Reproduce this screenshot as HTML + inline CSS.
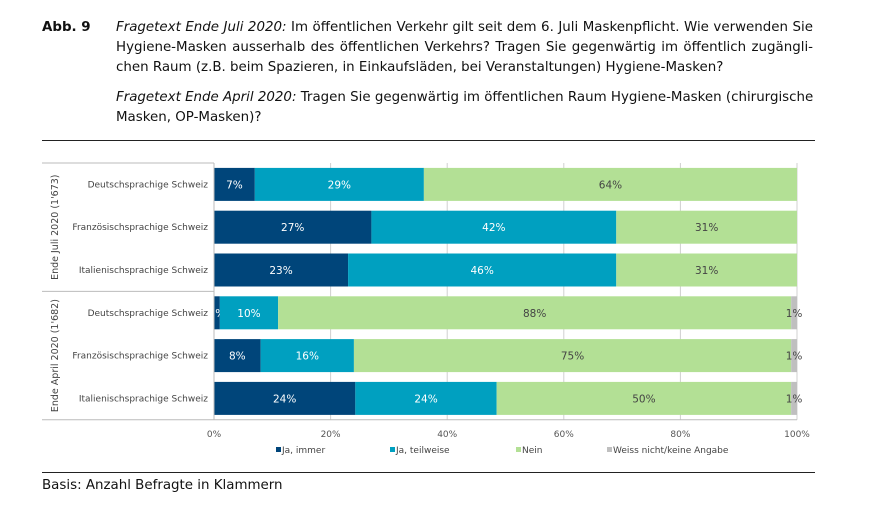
<!DOCTYPE html>
<html><head><meta charset="utf-8"><style>
body{margin:0;width:885px;height:506px;background:#fff;overflow:hidden;font-family:"DejaVu Sans","Liberation Sans",sans-serif;}
.hd{position:absolute;font-size:13.4px;color:#111;}
.ln{position:absolute;left:116px;width:697px;font-size:13.4px;text-align:justify;text-align-last:justify;white-space:nowrap;color:#111;}
.ln.l{text-align-last:left;}
</style></head><body>
<div class="hd" style="left:42px;top:20px;font-weight:bold;">Abb. 9</div>
<div class="ln" style="top:20px"><i>Fragetext Ende Juli 2020:</i> Im öffentlichen Verkehr gilt seit dem 6. Juli Maskenpflicht. Wie verwenden Sie</div>
<div class="ln" style="top:40px">Hygiene-Masken ausserhalb des öffentlichen Verkehrs? Tragen Sie gegenwärtig im öffentlich zugängli-</div>
<div class="ln l" style="top:60px">chen Raum (z.B. beim Spazieren, in Einkaufsläden, bei Veranstaltungen) Hygiene-Masken?</div>
<div class="ln" style="top:90px"><i>Fragetext Ende April 2020:</i> Tragen Sie gegenwärtig im öffentlichen Raum Hygiene-Masken (chirurgische</div>
<div class="ln l" style="top:110px">Masken, OP-Masken)?</div>
<div style="position:absolute;left:42px;top:140px;width:773px;height:1px;background:#222"></div>
<div style="position:absolute;left:42px;top:472px;width:773px;height:1px;background:#222"></div>
<div class="hd" style="left:42px;top:478px;">Basis: Anzahl Befragte in Klammern</div>
<svg id="chart" width="885" height="506" style="position:absolute;left:0;top:0" font-family="DejaVu Sans, Liberation Sans, sans-serif"></svg>
<script>
const categories=["Deutschsprachige Schweiz","Französischsprachige Schweiz","Italienischsprachige Schweiz","Deutschsprachige Schweiz","Französischsprachige Schweiz","Italienischsprachige Schweiz"];
const seriesNames=["Ja, immer","Ja, teilweise","Nein","Weiss nicht/keine Angabe"];
const jaImmer=[7,27,23,1,8,24];
const jaTeilweise=[29,42,46,10,16,24];
const nein=[64,31,31,88,75,50];
const weissNicht=[0,0,0,1,1,1];
const groups=["Ende Juli 2020 (1'673)","Ende April 2020 (1'682)"];
const ticks=[0,20,40,60,80,100];
const colors=["#00457a","#00a0c0","#b3e095","#bfbfbf"];
const textCols=["#fff","#fff","#444","#444"];
const svg=document.getElementById('chart');const NS="http://www.w3.org/2000/svg";
function mk(t,a,p){const e=document.createElementNS(NS,t);for(const k in a)e.setAttribute(k,a[k]);(p||svg).appendChild(e);return e;}
const X0=214,X1=797,Y0=163,rowH=42.8;
const xs=v=>X0+(X1-X0)*v/100;
const yc=i=>Y0+rowH*(i+0.5);
ticks.forEach(t=>{if(t>0){const l=mk('line',{x1:xs(t),x2:xs(t),y1:Y0,y2:Y0+rowH*6,stroke:'#d0d0d0'});}
const tx=mk('text',{x:xs(t),y:437,'font-size':9,'text-anchor':'middle',fill:'#555'});tx.textContent=t+'%';});
const series=[jaImmer,jaTeilweise,nein,weissNicht];
categories.forEach((c,i)=>{const tot=series.reduce((s,a)=>s+a[i],0);let acc=0;
series.forEach((a,k)=>{const v=a[i];if(!v)return;const x=xs(acc/tot*100),w=xs((acc+v)/tot*100)-x;acc+=v;
const r=mk('rect',{x:x,y:yc(i)-16.5,width:w,height:33,fill:colors[k]});
const t=mk('text',{x:x+w/2,y:yc(i)+4,'font-size':10.5,'text-anchor':'middle',fill:textCols[k]});t.textContent=v+'%';});
const lb=mk('text',{x:208,y:yc(i)+3,'font-size':9,'text-anchor':'end',fill:'#444'});lb.textContent=c;});
const ax=mk('line',{x1:X0,x2:X0,y1:Y0,y2:Y0+rowH*6,stroke:'#bbb'});
[0,3,6].forEach(r=>{const l=mk('line',{x1:42,x2:r==6?X1:X0,y1:Y0+rowH*r,y2:Y0+rowH*r,stroke:'#bbb'});});
groups.forEach((g,j)=>{const cy=Y0+rowH*(1.5+3*j);const t=mk('text',{x:0,y:0,'font-size':9.5,'text-anchor':'middle',fill:'#444',transform:`translate(58,${cy}) rotate(-90)`});t.textContent=g;});
const lx=[276,390,516,607];
seriesNames.forEach((n,k)=>{const r=mk('rect',{x:lx[k],y:447,width:5,height:5,fill:colors[k]});
const t=mk('text',{x:lx[k]+6,y:453,'font-size':9,fill:'#444'});t.textContent=n;});
</script>
</body></html>
